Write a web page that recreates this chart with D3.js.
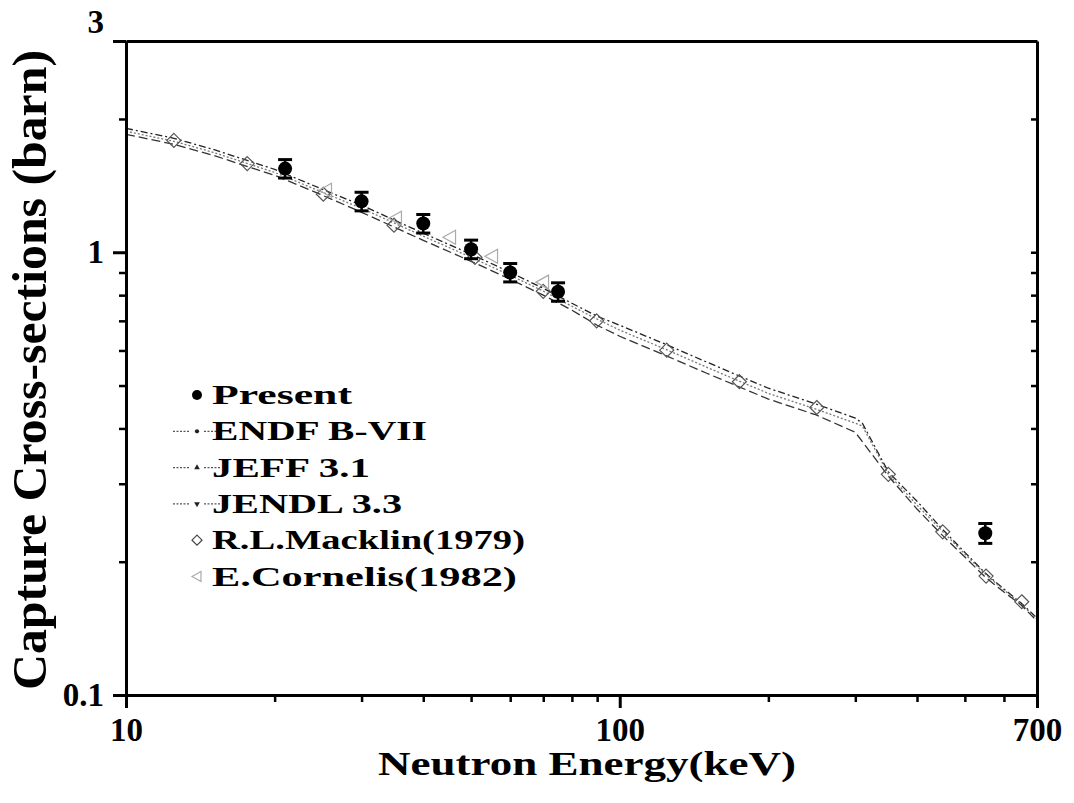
<!DOCTYPE html>
<html>
<head>
<meta charset="utf-8">
<script src="https://cdn.jsdelivr.net/npm/d3@7"></script>
<style>
  body { margin: 0; background: #fff; }
  svg text { font-family: "Liberation Serif", "Times New Roman", serif; font-weight: bold; fill: #000; }
</style>
</head>
<body>
<svg id="chart" width="1074" height="803"></svg>
<script>
// evaluated data (ENDF / JEFF share one energy grid)
const evalEnergy = [10, 12.5, 15, 20, 25, 30, 40, 50, 60, 70, 80, 90, 100, 125, 150, 175, 200, 250, 300, 310, 350, 400, 450, 500, 550, 600, 650, 700];
const endfValues = [1.905, 1.809, 1.708, 1.539, 1.387, 1.277, 1.104, 0.990, 0.901, 0.829, 0.767, 0.717, 0.684, 0.617, 0.565, 0.525, 0.493, 0.454, 0.422, 0.411, 0.319, 0.274, 0.237, 0.210, 0.1885, 0.1735, 0.1613, 0.1492];
const jeffValues = [1.876, 1.781, 1.682, 1.515, 1.366, 1.257, 1.087, 0.974, 0.887, 0.817, 0.755, 0.706, 0.667, 0.601, 0.550, 0.511, 0.480, 0.442, 0.411, 0.405, 0.3154, 0.2685, 0.2345, 0.2081, 0.1875, 0.1726, 0.1605, 0.1484];
const jendlEnergy = [10, 12.5, 15, 20, 25, 30, 40, 50, 60, 70, 80, 90, 100, 125, 150, 175, 200, 250, 300, 350, 400, 450, 500, 550, 600, 650, 700];
const jendlValues = [1.847, 1.753, 1.656, 1.492, 1.345, 1.231, 1.064, 0.954, 0.869, 0.800, 0.740, 0.684, 0.646, 0.582, 0.533, 0.496, 0.466, 0.429, 0.392, 0.3122, 0.2630, 0.2297, 0.2049, 0.1846, 0.1708, 0.1597, 0.1469];

// measurements
const presentEnergy = [21, 30, 40, 50, 60, 75, 550];
const presentValues = [1.545, 1.303, 1.161, 1.016, 0.900, 0.814, 0.232];
const presentErrors = [0.074, 0.063, 0.056, 0.049, 0.043, 0.039, 0.012];
const macklinEnergy = [12.5, 17.6, 25.1, 34.9, 50.9, 70, 89.8, 124.5, 174.7, 250.6, 350, 451, 552, 652];
const macklinValues = [1.789, 1.586, 1.352, 1.151, 0.974, 0.816, 0.700, 0.601, 0.510, 0.446, 0.315, 0.2336, 0.1856, 0.1624];
const cornelisEnergy = [25.4, 35.2, 45.3, 55.1, 69.9];
const cornelisValues = [1.380, 1.193, 1.081, 0.979, 0.856];

const xMajorTicks = [10, 100, 700];
const xMinorTicks = [20, 30, 40, 50, 60, 70, 80, 90, 200, 300, 400, 500, 600];
const yMajorTicks = [0.1, 1, 3];
const yMinorTicks = [0.2, 0.3, 0.4, 0.5, 0.6, 0.7, 0.8, 0.9, 2];

const legendLabels = ["Present", "ENDF B-VII", "JEFF 3.1", "JENDL 3.3", "R.L.Macklin(1979)", "E.Cornelis(1982)"];
const legendWidths = [140, 215, 158, 190, 313, 305];

const svg = d3.select("#chart");
const plotLeft = 126, plotRight = 1037, plotTop = 41, plotBottom = 695;

const x = d3.scaleLog().domain([10, 700]).range([plotLeft, plotRight]);
const y = d3.scaleLog().domain([0.1, 3]).range([plotBottom, plotTop]);

function diamond(r) {
    return `M0,${-r}L${r},0L0,${r}L${-r},0Z`;
}
function leftTriangle(r) {
    return `M${-r},0L${r * 0.8},${-r}L${r * 0.8},${r}Z`;
}

const lineStyles = [
    { name: "ENDF", energy: evalEnergy, values: endfValues, color: "#222", dash: "7,3,2,3" },
    { name: "JEFF", energy: evalEnergy, values: jeffValues, color: "#777", dash: "2,2" },
    { name: "JENDL", energy: jendlEnergy, values: jendlValues, color: "#333", dash: "9,4" }
];

// curves
const line = d3.line().x(d => x(d[0])).y(d => y(d[1]));
lineStyles.forEach(s => {
    svg.append("path")
        .datum(d3.zip(s.energy, s.values))
        .attr("fill", "none")
        .attr("stroke", s.color)
        .attr("stroke-width", 1.3)
        .attr("stroke-dasharray", s.dash)
        .attr("d", line);
});

// Macklin diamonds
svg.selectAll(".macklin")
    .data(d3.zip(macklinEnergy, macklinValues))
    .enter().append("path")
    .attr("class", "macklin")
    .attr("transform", d => `translate(${x(d[0])},${y(d[1])})`)
    .attr("d", diamond(7))
    .attr("fill", "none")
    .attr("stroke", "#555")
    .attr("stroke-width", 1.2);

// Cornelis triangles
svg.selectAll(".cornelis")
    .data(d3.zip(cornelisEnergy, cornelisValues))
    .enter().append("path")
    .attr("class", "cornelis")
    .attr("transform", d => `translate(${x(d[0])},${y(d[1])})`)
    .attr("d", leftTriangle(7))
    .attr("fill", "none")
    .attr("stroke", "#aaa")
    .attr("stroke-width", 1.2);

// Present points with error bars
const present = svg.selectAll(".present")
    .data(d3.zip(presentEnergy, presentValues, presentErrors))
    .enter().append("g")
    .attr("class", "present");

present.append("line")
    .attr("x1", d => x(d[0])).attr("x2", d => x(d[0]))
    .attr("y1", d => y(d[1] + d[2])).attr("y2", d => y(d[1] - d[2]))
    .attr("stroke", "#000").attr("stroke-width", 2.5);
present.selectAll(".cap")
    .data(d => [[d[0], d[1] + d[2]], [d[0], d[1] - d[2]]])
    .enter().append("line")
    .attr("x1", d => x(d[0]) - 7).attr("x2", d => x(d[0]) + 7)
    .attr("y1", d => y(d[1])).attr("y2", d => y(d[1]))
    .attr("stroke", "#000").attr("stroke-width", 3);
present.append("circle")
    .attr("cx", d => x(d[0]))
    .attr("cy", d => y(d[1]))
    .attr("r", 7)
    .attr("fill", "#000");

// axes
function styleAxis(g, width) {
    g.select(".domain").attr("stroke-width", 3);
    g.selectAll(".tick line").attr("stroke-width", width);
    g.selectAll("text").attr("font-size", 33).attr("fill", "#000");
}

const fmt = d => String(d);

svg.append("g")
    .attr("transform", `translate(0,${plotBottom})`)
    .call(d3.axisBottom(x).tickValues(xMinorTicks).tickSize(7).tickSizeOuter(0).tickFormat(""))
    .call(g => styleAxis(g, 2.5));
svg.append("g")
    .attr("transform", `translate(0,${plotBottom})`)
    .call(d3.axisBottom(x).tickValues(xMajorTicks).tickSize(13).tickSizeOuter(0).tickPadding(10).tickFormat(fmt))
    .call(g => styleAxis(g, 3));

svg.append("g")
    .attr("transform", `translate(${plotLeft},0)`)
    .call(d3.axisLeft(y).tickValues(yMinorTicks).tickSize(7).tickSizeOuter(0).tickFormat(""))
    .call(g => styleAxis(g, 2.5));
const yAxis = svg.append("g")
    .attr("transform", `translate(${plotLeft},0)`)
    .call(d3.axisLeft(y).tickValues(yMajorTicks).tickSize(13).tickSizeOuter(0).tickPadding(9).tickFormat(fmt))
    .call(g => styleAxis(g, 3));
// top label "3" sits above the frame corner
yAxis.selectAll(".tick text").filter(d => d === 3).attr("dy", "-0.25em");

// top frame line, right frame with inward ticks
svg.append("g")
    .attr("transform", `translate(0,${plotTop})`)
    .call(d3.axisBottom(x).tickValues([]).tickSizeOuter(0))
    .call(g => styleAxis(g, 2.5));
svg.append("g")
    .attr("transform", `translate(${plotRight},0)`)
    .call(d3.axisLeft(y).tickValues(yMinorTicks.concat([1])).tickSize(6).tickSizeOuter(0).tickFormat(""))
    .call(g => styleAxis(g, 2.5));

// axis titles
svg.append("text")
    .attr("x", 378).attr("y", 775)
    .attr("font-size", 34)
    .attr("textLength", 418)
    .attr("lengthAdjust", "spacingAndGlyphs")
    .text("Neutron Energy(keV)");

svg.append("text")
    .attr("transform", "translate(46,690) rotate(-90)")
    .attr("font-size", 49)
    .attr("textLength", 640)
    .attr("lengthAdjust", "spacingAndGlyphs")
    .text("Capture Cross-sections (barn)");

// legend
const legend = svg.append("g").attr("class", "legend");
const rowY = i => 395 + i * 36.3;
const symX = 197;

legend.append("circle").attr("cx", symX).attr("cy", rowY(0)).attr("r", 5).attr("fill", "#000");

const legendMarks = [d3.symbolCircle, d3.symbolTriangle, d3.symbolTriangle];
lineStyles.forEach((s, i) => {
    const cy = rowY(i + 1);
    [[173, 190], [204, 220]].forEach(seg => {
        legend.append("line")
            .attr("x1", seg[0]).attr("x2", seg[1])
            .attr("y1", cy).attr("y2", cy)
            .attr("stroke", "#555").attr("stroke-width", 1.2)
            .attr("stroke-dasharray", "2,1.5");
    });
    legend.append("path")
        .attr("transform", `translate(${symX},${cy})` + (i === 2 ? " rotate(180)" : ""))
        .attr("d", d3.symbol().type(legendMarks[i]).size(14)())
        .attr("fill", "#222");
});

legend.append("path")
    .attr("transform", `translate(${symX},${rowY(4)})`)
    .attr("d", diamond(5))
    .attr("fill", "none").attr("stroke", "#444").attr("stroke-width", 1.2);
legend.append("path")
    .attr("transform", `translate(${symX},${rowY(5)})`)
    .attr("d", leftTriangle(5))
    .attr("fill", "none").attr("stroke", "#aaa").attr("stroke-width", 1.2);

legend.selectAll(".label")
    .data(legendLabels)
    .enter().append("text")
    .attr("class", "label")
    .attr("x", 212)
    .attr("y", (d, i) => rowY(i) + 9)
    .attr("font-size", 28)
    .attr("textLength", (d, i) => legendWidths[i])
    .attr("lengthAdjust", "spacingAndGlyphs")
    .text(d => d);
</script>
</body>
</html>
